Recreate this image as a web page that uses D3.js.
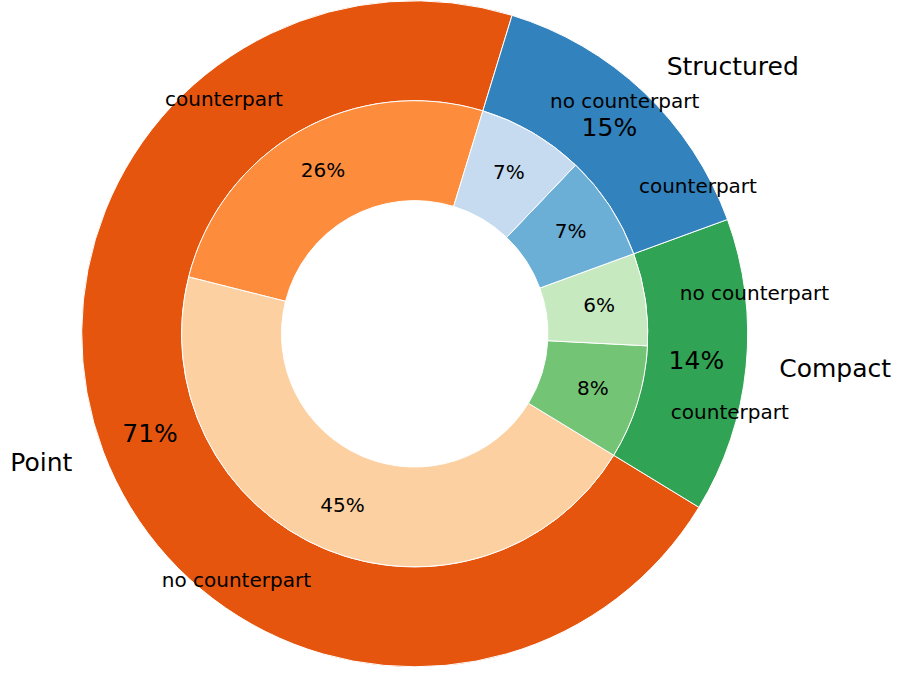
<!DOCTYPE html>
<html>
<head>
<meta charset="utf-8">
<script src="https://cdn.jsdelivr.net/npm/d3@7"></script>
<style>
  html, body { margin: 0; padding: 0; background: #fff; }
  svg { display: block; }
  text { font-family: "DejaVu Sans", sans-serif; fill: #000; }
</style>
</head>
<body>
<svg id="chart" width="898" height="673"></svg>
<script>
// Groups (outer ring) and their sub-categories (inner ring), in drawing order
const groups = ["Point", "Compact", "Structured"];
const subLabels = ["counterpart", "no counterpart"];
// Shares in percent for each group's [counterpart, no counterpart]
const pointValues = [25.8, 45.2];
const compactValues = [7.9, 6.4];
const structuredValues = [7.3, 7.4];

const outerColors = ["#e6550d", "#31a354", "#3182bd"];
const innerColors = ["#fd8d3c", "#fdd0a2", "#74c476", "#c7e9c0", "#6baed6", "#c6dbef"];

const groupValues = [pointValues, compactValues, structuredValues];
const outerData = groups.map((g, i) => ({ label: g, value: d3.sum(groupValues[i]) }));
const innerData = [];
groupValues.forEach(vals => vals.forEach((v, j) => innerData.push({ label: subLabels[j], value: v })));

const width = 898, height = 673;
const cx = 414.7, cy = 333.8;
const R = 333;
const start = 17.0 * Math.PI / 180;

const svg = d3.select("#chart");
const g = svg.append("g").attr("transform", `translate(${cx},${cy})`);

// Wedges run counter-clockwise from the start angle
const pie = d3.pie().value(d => d.value).sort(null)
  .startAngle(start).endAngle(start - 2 * Math.PI);

const outerArc = d3.arc().innerRadius(R * 0.7).outerRadius(R);
const innerArc = d3.arc().innerRadius(R * 0.4).outerRadius(R * 0.7);

const outerArcs = pie(outerData);
const innerArcs = pie(innerData);

g.selectAll("path.outer").data(outerArcs).join("path")
  .attr("class", "outer")
  .attr("d", outerArc)
  .attr("fill", (d, i) => outerColors[i])
  .attr("stroke", "#fff").attr("stroke-width", 1);

g.selectAll("path.inner").data(innerArcs).join("path")
  .attr("class", "inner")
  .attr("d", innerArc)
  .attr("fill", (d, i) => innerColors[i])
  .attr("stroke", "#fff").attr("stroke-width", 1);

const mid = d => (d.startAngle + d.endAngle) / 2;
const polar = (a, r) => [r * Math.sin(a), -r * Math.cos(a)];
const fmt = v => Math.round(v) + "%";

// Category labels outside each wedge
function addLabels(arcs, r, size) {
  g.selectAll(null).data(arcs).join("text")
    .attr("x", d => polar(mid(d), r)[0])
    .attr("y", d => polar(mid(d), r)[1] - 1)
    .attr("text-anchor", d => polar(mid(d), r)[0] > 0 ? "start" : "end")
    .attr("dominant-baseline", "central")
    .attr("font-size", size)
    .text(d => d.data.label);
}
// Percentage labels centred inside each wedge
function addPct(arcs, r, size) {
  g.selectAll(null).data(arcs).join("text")
    .attr("x", d => polar(mid(d), r)[0])
    .attr("y", d => polar(mid(d), r)[1] - 1)
    .attr("text-anchor", "middle")
    .attr("dominant-baseline", "central")
    .attr("font-size", size)
    .text(d => fmt(d.data.value));
}

addLabels(outerArcs, R * 1.1, 25);
addPct(outerArcs, R * 0.85, 25);
addLabels(innerArcs, R * 0.805, 20);
addPct(innerArcs, R * 0.7 * 0.8, 20);
</script>
</body>
</html>
